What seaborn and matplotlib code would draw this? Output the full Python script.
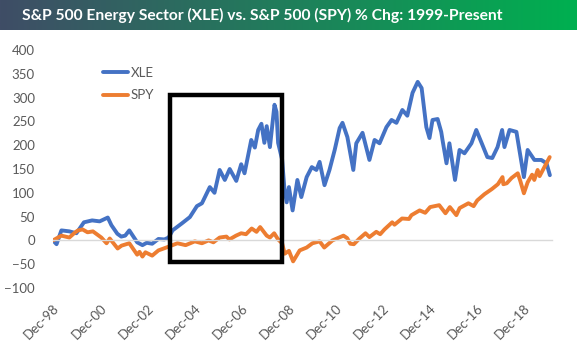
import numpy as np
import pandas as pd
import matplotlib
matplotlib.use("Agg")
import matplotlib.pyplot as plt
import matplotlib.transforms as mtransforms
from matplotlib.patches import Rectangle
from matplotlib.colors import LinearSegmentedColormap
import seaborn as sns

# XLE % change since Dec-98
xle_dates = ["1998-12-22", "1999-02-15", "1999-05-01", "1999-09-01", "1999-12-20", "2000-04-15",
             "2000-08-20", "2000-12-15", "2001-04-20", "2001-06-15", "2001-09-15", "2001-11-15",
             "2002-01-15", "2002-03-20", "2002-07-20", "2002-10-10", "2002-12-15", "2003-03-10",
             "2003-06-15", "2003-09-15", "2003-11-20", "2004-01-20", "2004-06-15", "2004-10-15",
             "2005-02-01", "2005-04-20", "2005-08-20", "2005-11-01", "2006-01-20", "2006-04-10",
             "2006-06-25", "2006-10-05", "2006-12-20", "2007-02-10", "2007-05-25", "2007-07-20",
             "2007-09-10", "2007-10-30", "2007-12-15", "2008-01-20", "2008-03-10", "2008-05-20",
             "2008-06-20", "2008-07-15", "2008-09-15", "2008-10-20", "2008-11-25", "2008-12-30",
             "2009-02-25", "2009-05-10", "2009-07-10", "2009-10-01", "2009-12-20", "2010-03-01",
             "2010-04-20", "2010-07-05", "2010-09-20", "2010-12-10", "2011-02-25", "2011-04-10",
             "2011-06-25", "2011-09-25", "2011-11-10", "2012-02-15", "2012-06-01", "2012-08-20",
             "2012-11-05", "2013-02-20", "2013-05-10", "2013-07-25", "2013-10-25", "2014-01-10",
             "2014-04-01", "2014-06-20", "2014-08-20", "2014-11-01", "2014-12-20", "2015-02-05",
             "2015-04-25", "2015-06-20", "2015-07-10", "2015-09-10", "2015-10-25", "2016-01-20",
             "2016-03-30", "2016-06-15", "2016-10-01", "2016-12-15", "2017-03-10", "2017-06-05",
             "2017-08-20", "2017-11-10", "2018-01-20", "2018-02-25", "2018-05-15", "2018-08-30",
             "2018-10-15", "2018-12-24", "2019-02-20", "2019-06-05", "2019-09-20", "2019-12-10",
             "2020-01-31"]
xle_values = [0, -8, 21, 19, 15, 38,
              42, 40, 48, 32, 14, 8,
              10, 21, -4, -10, -5, -7,
              3, 2, 6, 21, 36, 49,
              72, 78, 112, 100, 148, 127,
              150, 125, 160, 141, 211, 195,
              232, 245, 205, 240, 196, 285,
              270, 205, 170, 110, 80, 112,
              63, 127, 91, 133, 154, 148,
              165, 116, 148, 190, 236, 247,
              217, 148, 204, 226, 169, 211,
              204, 238, 253, 247, 274, 262,
              310, 333, 320, 238, 215, 253,
              255, 228, 211, 162, 204, 127,
              190, 183, 204, 232, 204, 175,
              173, 196, 232, 196, 232, 228,
              190, 133, 190, 169, 169, 162,
              137]

# SPY % change since Dec-98
spy_dates = ["1998-12-22", "1999-05-01", "1999-09-01", "1999-12-01", "2000-01-15", "2000-03-25",
             "2000-06-10", "2000-09-01", "2001-01-10", "2001-04-01", "2001-05-20", "2001-09-20",
             "2001-11-20", "2002-03-20", "2002-07-20", "2002-08-25", "2002-10-10", "2002-11-25",
             "2003-03-10", "2003-06-15", "2003-10-15", "2004-04-05", "2004-08-10", "2004-12-30",
             "2005-04-20", "2005-08-01", "2005-10-15", "2006-01-20", "2006-05-05", "2006-06-20",
             "2006-10-01", "2006-12-20", "2007-03-05", "2007-06-01", "2007-08-15", "2007-10-10",
             "2008-01-20", "2008-03-10", "2008-05-15", "2008-07-15", "2008-09-15", "2008-10-25",
             "2008-12-30", "2009-03-05", "2009-06-15", "2009-10-01", "2009-12-30", "2010-04-20",
             "2010-07-01", "2010-11-05", "2011-04-25", "2011-06-20", "2011-08-10", "2011-10-03",
             "2011-12-30", "2012-04-01", "2012-06-01", "2012-09-15", "2012-11-15", "2013-01-20",
             "2013-05-20", "2013-06-25", "2013-10-20", "2014-02-05", "2014-03-15", "2014-07-20",
             "2014-10-15", "2014-12-30", "2015-05-20", "2015-08-25", "2015-11-01", "2016-02-10",
             "2016-04-01", "2016-08-15", "2016-11-04", "2016-12-30", "2017-04-20", "2017-08-15",
             "2017-11-15", "2018-01-26", "2018-02-08", "2018-04-02", "2018-06-15", "2018-09-20",
             "2018-10-29", "2018-12-24", "2019-02-20", "2019-04-30", "2019-06-03", "2019-07-25",
             "2019-08-25", "2019-10-30", "2019-12-20", "2020-01-28"]
spy_values = [0, 10, 6, 17, 21, 23,
              17, 19, 6, -6, 4, -17,
              -11, -6, -30, -24, -34, -25,
              -32, -21, -15, -6, -10, -2,
              -6, 0, -4, 6, 8, 2,
              10, 15, 13, 25, 18, 28,
              10, 6, 15, 2, -6, -28,
              -22, -44, -21, -15, -6, -2,
              -15, 0, 10, 5, -7, -8,
              4, 15, 7, 18, 13, 23,
              38, 33, 46, 45, 53, 63,
              58, 70, 74, 57, 70, 53,
              68, 78, 72, 84, 97, 108,
              118, 133, 118, 120, 131, 141,
              125, 99, 122, 138, 127, 148,
              135, 152, 165, 175]

tick_years = list(range(1998, 2019, 2))
tick_labels = [f"Dec-{y % 100:02d}" for y in tick_years]

xle = pd.DataFrame({"date": pd.to_datetime(xle_dates), "pct": xle_values})
spy = pd.DataFrame({"date": pd.to_datetime(spy_dates), "pct": spy_values})

sns.set_theme(style="white")
plt.rcParams["font.family"] = ["Lato", "DejaVu Sans"]

W, H = 577, 355
fig = plt.figure(figsize=(W / 100, H / 100), dpi=100)

# green gradient title band
band = fig.add_axes([0, 1 - 30 / H, 1, 30 / H])
cmap = LinearSegmentedColormap.from_list("band", ["#3f4d66", "#00b050"])
band.imshow(np.linspace(0, 1, 256)[None, :], aspect="auto", cmap=cmap, extent=[0, 1, 0, 1])
band.set_axis_off()
title = band.text(262 / W, 0.5, "S&P 500 Energy Sector (XLE) vs. S&P 500 (SPY) % Chg: 1999-Present",
                  transform=band.transAxes, ha="center", va="center", color="white",
                  fontsize=12, fontweight="bold")
# fit the title to ~480 px wide like the original
r = fig.canvas.get_renderer()
tw = title.get_window_extent(renderer=r).width
title.set_fontsize(12 * 480 / tw)

ax = fig.add_axes([53 / W, 1 - 288 / H, 499 / W, 238 / H])
sns.lineplot(data=xle, x="date", y="pct", ax=ax, color="#4472c4", lw=2.8, label="XLE")
sns.lineplot(data=spy, x="date", y="pct", ax=ax, color="#ed7d31", lw=2.8, label="SPY")

ax.set_ylim(-100, 400)
ax.set_yticks(range(-100, 401, 50))
ax.set_xlim(pd.Timestamp("1998-12-22"), pd.Timestamp("2020-03-04"))
tick_dates = [pd.Timestamp(f"{y}-12-22") for y in tick_years]
ax.set_xticks(tick_dates)
ax.set_xlabel("")
ax.set_ylabel("")

for s in ["top", "right", "left"]:
    ax.spines[s].set_visible(False)
ax.spines["bottom"].set_position(("data", 0))
ax.spines["bottom"].set_color("#d9d9d9")
ax.spines["bottom"].set_linewidth(1)
ax.tick_params(axis="x", length=4, width=1, color="#d9d9d9", direction="out", labelbottom=False)
ax.tick_params(axis="y", length=0, pad=13, labelsize=9.5, labelcolor="#595959")

# date labels along the bottom of the plot area
trans = mtransforms.blended_transform_factory(ax.transData, ax.transAxes)
for d, lab in zip(tick_dates, tick_labels):
    ax.text(d, -0.06, lab, transform=trans, rotation=45, rotation_mode="anchor",
            ha="right", va="top", fontsize=9.5, color="#595959")

# highlight box
ax.add_patch(Rectangle((pd.Timestamp("2003-12-15"), -46),
                       pd.Timestamp("2008-09-15") - pd.Timestamp("2003-12-15"), 351,
                       fill=False, edgecolor="black", lw=3.2, zorder=5))

leg = ax.legend(loc="upper left", bbox_to_anchor=(0.1, 0.93), frameon=False,
                borderpad=0, borderaxespad=0, handlelength=1.9, handletextpad=0.2,
                labelspacing=0.8, fontsize=9.5)
for t in leg.get_texts():
    t.set_color("#595959")

fig.savefig("out.png", dpi=100)
